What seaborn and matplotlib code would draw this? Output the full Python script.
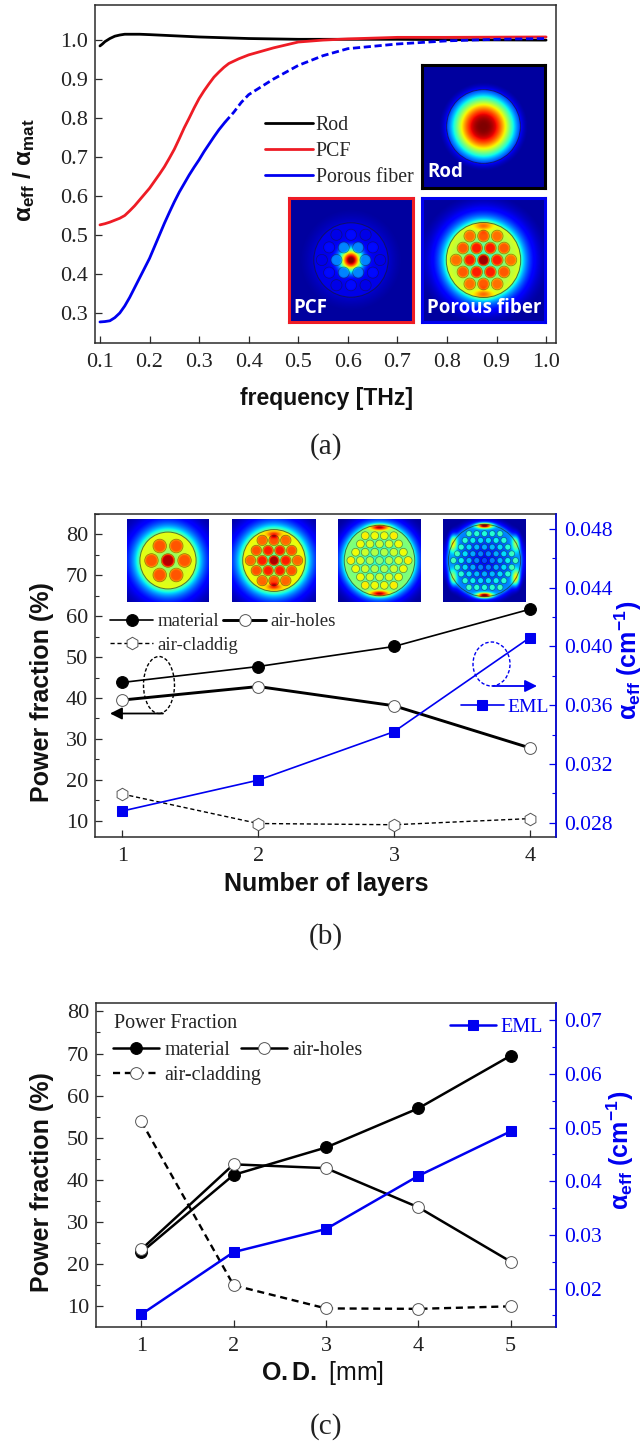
import numpy as np
import matplotlib.pyplot as plt
from matplotlib.patches import Circle, Ellipse, FancyArrowPatch
from matplotlib.ticker import MultipleLocator
import seaborn as sns

W, H = 644, 1444

# panel a
rod_x = [0.1, 0.105, 0.11, 0.12, 0.13, 0.14, 0.15, 0.16, 0.18, 0.2, 0.3, 0.4, 0.5, 0.6, 0.7, 0.8, 1.0]
rod_y = [0.985, 0.99, 0.996, 1.004, 1.01, 1.013, 1.015, 1.015, 1.015, 1.014, 1.008, 1.004, 1.002, 1.002, 1.002, 1.001, 1.0]
pcf_x = [0.1, 0.11, 0.12, 0.13, 0.14, 0.15, 0.16, 0.17, 0.18, 0.19, 0.2, 0.21, 0.22, 0.23, 0.24, 0.25, 0.26, 0.27,
         0.28, 0.29, 0.3, 0.31, 0.32, 0.33, 0.34, 0.35, 0.36, 0.38, 0.4, 0.45, 0.5, 0.55, 0.6, 0.7, 0.8, 1.0]
pcf_y = [0.526, 0.529, 0.533, 0.538, 0.543, 0.55, 0.562, 0.575, 0.59, 0.605, 0.62, 0.638, 0.656, 0.675, 0.697, 0.72,
         0.747, 0.775, 0.80, 0.826, 0.85, 0.87, 0.888, 0.905, 0.918, 0.93, 0.94, 0.952, 0.962, 0.98, 0.995, 1.0,
         1.003, 1.007, 1.007, 1.008]
porous_x = [0.1, 0.11, 0.12, 0.13, 0.14, 0.15, 0.16, 0.17, 0.18, 0.19, 0.2, 0.21, 0.22, 0.23, 0.24, 0.25, 0.26, 0.27,
            0.28, 0.29, 0.3, 0.31, 0.32, 0.33, 0.34, 0.352]
porous_y = [0.277, 0.278, 0.28, 0.288, 0.30, 0.318, 0.34, 0.365, 0.39, 0.415, 0.44, 0.47, 0.50, 0.53, 0.558, 0.585,
            0.61, 0.632, 0.654, 0.674, 0.693, 0.714, 0.733, 0.752, 0.77, 0.789]
porous_dash_x = [0.352, 0.37, 0.385, 0.4, 0.425, 0.45, 0.5, 0.55, 0.6, 0.7, 0.8, 0.9, 1.0]
porous_dash_y = [0.789, 0.815, 0.84, 0.86, 0.88, 0.90, 0.935, 0.96, 0.978, 0.99, 0.998, 1.002, 1.004]

# panel b
layers = [1, 2, 3, 4]
b_material = [43.8, 47.7, 52.6, 61.7]
b_holes = [39.5, 42.8, 38.1, 27.8]
b_cladding = [16.5, 9.3, 9.0, 10.5]
b_eml = [0.0288, 0.0309, 0.0342, 0.0406]

# panel c
od = [1, 2, 3, 4, 5]
c_material = [22.8, 41.2, 47.7, 57.0, 69.5]
c_holes = [23.5, 43.7, 42.8, 33.5, 20.6]
c_cladding = [53.9, 15.0, 9.5, 9.4, 10.0]
c_eml = [0.0152, 0.0268, 0.0311, 0.0410, 0.0493]

sns.set_theme(style="ticks")
plt.rcParams["font.family"] = ["Liberation Serif", "DejaVu Serif"]
plt.rcParams["mathtext.fontset"] = "custom"
plt.rcParams["mathtext.rm"] = "Liberation Sans:bold"
plt.rcParams["mathtext.bf"] = "Liberation Sans:bold"
plt.rcParams["mathtext.it"] = "Liberation Sans:bold"

DARK = "#2b2b2b"
BLUE = "#0000f0"
SANS = "Liberation Sans"

fig = plt.figure(figsize=(W / 100, H / 100), dpi=100)


def px_axes(left, top, right, bottom):
    return fig.add_axes([left / W, 1 - bottom / H, (right - left) / W, (bottom - top) / H])


def fx(x):
    return x / W


def fy(y):
    return 1 - y / H


def style_main(ax, size=16):
    for s in ax.spines.values():
        s.set_color(DARK)
        s.set_linewidth(1.1)
    ax.tick_params(axis="both", which="major", direction="in", length=5, width=0.9,
                   color=DARK, labelcolor="#222222", labelsize=size)
    ax.tick_params(axis="x", pad=7)
    ax.tick_params(axis="y", pad=5)
    ax.tick_params(axis="y", which="minor", direction="in", length=3, width=0.8, color=DARK)


def style_twin(ax):
    ax.spines["right"].set_color(BLUE)
    ax.spines["right"].set_linewidth(1.1)
    for n in ["left", "top", "bottom"]:
        ax.spines[n].set_visible(False)
    ax.tick_params(axis="y", which="major", direction="in", length=5, width=0.9,
                   color=BLUE, labelcolor=BLUE, labelsize=15.5, pad=6)
    ax.tick_params(axis="y", which="minor", direction="in", length=3, width=0.8, color=BLUE)


def labels(ax, xtext, xpos, ytext, ypos, xsize=18, ysize=18):
    ax.set_xlabel(xtext, family=SANS, weight="bold", fontsize=xsize, color="#111111", va="center")
    ax.xaxis.set_label_coords(fx(xpos[0]), fy(xpos[1]), transform=fig.transFigure)
    ax.set_ylabel(ytext, family=SANS, weight="bold", fontsize=ysize, color="#111111", va="center")
    ax.yaxis.set_label_coords(fx(ypos[0]), fy(ypos[1]), transform=fig.transFigure)


def split_legend(ax, first, second, x1, x2, top, size, spacing):
    # the second column sits over the long label of the first, so two legends
    handles = dict(zip(*reversed(ax.get_legend_handles_labels())))
    opts = dict(frameon=False, fontsize=size, handlelength=2.3, handletextpad=0.25,
                labelspacing=spacing, borderpad=0, borderaxespad=0, loc="upper left",
                bbox_transform=fig.transFigure)
    leg = ax.legend([handles[k] for k in first], first, bbox_to_anchor=(fx(x1), fy(top)), **opts)
    ax.add_artist(leg)
    ax.legend([handles[k] for k in second], second, bbox_to_anchor=(fx(x2), fy(top)), **opts)


def hex_centres(rings, pitch):
    out = []
    for j in range(-rings, rings + 1):
        for i in range(-rings, rings + 1):
            if abs(i + j) <= rings:
                out.append((pitch * (i + j / 2), pitch * j * np.sqrt(3) / 2))
    return out


def fibre_inset(box, rings, pitch, hole_r, fibre_r, web, core, core_w, edge, fall,
                hole_in, hole_out, lobes=(), skip_core=False, border=None, name=None, name_xy=None,
                core_pow=2):
    ax = px_axes(*box)
    g = np.linspace(-1, 1, 240)
    X, Y = np.meshgrid(g, g)
    R = np.hypot(X, Y)
    f = np.where(R < fibre_r, web + core * np.exp(-(R / core_w) ** core_pow),
                 edge * np.exp(-np.clip(R - fibre_r, 0, None) / fall))
    centres = hex_centres(rings, pitch) if rings else []
    if skip_core:
        centres = [c for c in centres if np.hypot(*c) > 1e-6]
    rmax = max([np.hypot(*c) for c in centres] + [1e-6])
    for cx, cy in centres:
        m = np.exp(-(np.hypot(X - cx, Y - cy) / hole_r) ** 10)
        val = hole_in + (hole_out - hole_in) * np.hypot(cx, cy) / rmax
        f = f * (1 - m) + val * m
    for lx, ly, sx, sy, amp in lobes:
        f = f + amp * np.exp(-((X - lx) / sx) ** 2 - ((Y - ly) / sy) ** 2)
    ax.imshow(np.clip(f, 0.03, 1), cmap="jet", vmin=0, vmax=1, extent=[-1, 1, -1, 1],
              origin="lower", interpolation="bilinear", aspect="auto")
    ax.add_patch(Circle((0, 0), fibre_r, fill=False, ec="#1a1a1a", lw=0.7, alpha=0.6))
    for cx, cy in centres:
        ax.add_patch(Circle((cx, cy), hole_r, fill=False, ec="#1a1a1a", lw=0.5, alpha=0.5))
    ax.set_xlim(-1, 1)
    ax.set_ylim(-1, 1)
    ax.set_xticks([])
    ax.set_yticks([])
    for s in ax.spines.values():
        if border:
            s.set_color(border)
            s.set_linewidth(2.2)
        else:
            s.set_visible(False)
    if name:
        fig.text(fx(name_xy[0]), fy(name_xy[1]), name, color="white", family="Open Sans",
                 weight="bold", fontsize=13.5, va="center", ha="left")


# ---- panel a
ax_a = px_axes(95, 5, 556, 343)
sns.lineplot(x=rod_x, y=rod_y, ax=ax_a, color="black", lw=2.0, label="Rod", errorbar=None)
sns.lineplot(x=pcf_x, y=pcf_y, ax=ax_a, color="#ee1c25", lw=2.0, label="PCF", errorbar=None)
sns.lineplot(x=porous_x, y=porous_y, ax=ax_a, color=BLUE, lw=2.0, label="Porous fiber", errorbar=None)
sns.lineplot(x=porous_dash_x, y=porous_dash_y, ax=ax_a, color=BLUE, lw=2.0, errorbar=None,
             linestyle=(0, (2.6, 1.3)))
ax_a.set_xlim(0.09, 1.02)
ax_a.set_ylim(0.223, 1.09)
ax_a.set_xticks(np.arange(1, 11) / 10)
ax_a.set_yticks(np.arange(3, 11) / 10)
ax_a.set_xticklabels([f"{v / 10:.1f}" for v in range(1, 11)])
ax_a.set_yticklabels([f"{v / 10:.1f}" for v in range(3, 11)])
style_main(ax_a)
labels(ax_a, "frequency [THz]", (326, 398), r"$\mathbf{\alpha_{eff}}$ / $\mathbf{\alpha_{mat}}$", (24, 170), 16.5, 17.5)
ax_a.legend(loc="upper left", bbox_to_anchor=(fx(265), fy(116)), bbox_transform=fig.transFigure,
            frameon=False, fontsize=14.3, handlelength=2.4, handletextpad=0.15, labelspacing=0.36,
            borderpad=0, borderaxespad=0)

fibre_inset((422, 65, 545, 188), 0, 0.2, 0.1, 0.6, 0.0, 1.0, 0.49, 0.13, 0.08, 0, 0, core_pow=2.6,
            border="black", name="Rod", name_xy=(427, 172))
fibre_inset((289, 198, 413, 322), 2, 0.235, 0.09, 0.6, 0.09, 0.95, 0.17, 0.07, 0.25, 0.42, 0.09,
            skip_core=True, border="#ee1c25", name="PCF", name_xy=(293, 308))
fibre_inset((422, 198, 545, 322), 2, 0.223, 0.095, 0.605, 0.68, -0.28, 0.5, 0.45, 0.17, 0.97, 0.79,
            lobes=[(0, 0.55, 0.14, 0.07, 0.2), (0, -0.55, 0.14, 0.07, 0.2)],
            border=BLUE, name="Porous fiber", name_xy=(427, 308))

# ---- panel b
ax_b = px_axes(95, 514, 556, 837)
sns.lineplot(x=layers, y=b_material, ax=ax_b, color="black", lw=1.2, marker="o", ms=8.5,
             mfc="black", mec="black", label="material", errorbar=None)
sns.lineplot(x=layers, y=b_cladding, ax=ax_b, color="black", lw=1.0, marker="h", ms=9,
             mfc="white", mec="#555555", mew=0.7, linestyle=(0, (3, 2)), label="air-claddig", errorbar=None)
sns.lineplot(x=layers, y=b_holes, ax=ax_b, color="black", lw=2.1, marker="o", ms=8.5,
             mfc="white", mec="#555555", mew=0.7, label="air-holes", errorbar=None)
ax_b.set_xlim(0.798, 4.193)
ax_b.set_ylim(6.0, 85.0)
ax_b.set_xticks(layers)
ax_b.yaxis.set_major_locator(MultipleLocator(10))
ax_b.yaxis.set_minor_locator(MultipleLocator(5))
style_main(ax_b)
labels(ax_b, "Number of layers", (326, 884), "Power fraction (%)", (42, 692))
split_legend(ax_b, ["material", "air-claddig"], ["air-holes"], 110, 223, 613, 13.5, 0.35)

tw_b = ax_b.twinx()
sns.lineplot(x=layers, y=b_eml, ax=tw_b, color=BLUE, lw=1.2, marker="s", ms=7.5,
             mfc=BLUE, mec=BLUE, label="EML", errorbar=None)
tw_b.set_ylim(0.02703, 0.04902)
tw_b.set_yticks([0.028, 0.032, 0.036, 0.040, 0.044, 0.048])
tw_b.set_yticklabels(["0.028", "0.032", "0.036", "0.040", "0.044", "0.048"])
tw_b.yaxis.set_minor_locator(MultipleLocator(0.002))
style_twin(tw_b)
tw_b.set_ylabel(r"$\mathbf{\alpha_{eff}}$ (cm$^{\mathbf{-1}}$)", family=SANS, weight="bold",
                fontsize=18, color=BLUE, va="center")
tw_b.yaxis.set_label_coords(fx(628), fy(660), transform=fig.transFigure)
tw_b.legend(loc="upper left", bbox_to_anchor=(fx(461), fy(698)), bbox_transform=fig.transFigure,
            frameon=False, fontsize=14, labelcolor=BLUE, handlelength=2.2, handletextpad=0.2,
            borderpad=0, borderaxespad=0)

inset_top, inset_bottom = 519, 602
fibre_inset((127, inset_top, 209, inset_bottom), 1, 0.403, 0.165, 0.685, 0.63, -0.15, 0.35, 0.5, 0.27, 0.95, 0.82)
fibre_inset((232, inset_top, 316, inset_bottom), 2, 0.28, 0.125, 0.745, 0.68, -0.25, 0.5, 0.5, 0.25, 0.96, 0.8,
            lobes=[(0, 0.63, 0.16, 0.07, 0.25), (0, -0.63, 0.16, 0.07, 0.25)])
fibre_inset((338, inset_top, 421, inset_bottom), 3, 0.23, 0.095, 0.85, 0.55, -0.15, 0.7, 0.42, 0.18, 0.52, 0.66,
            lobes=[(0, 0.8, 0.22, 0.07, 0.45), (0, -0.8, 0.22, 0.07, 0.45)])
fibre_inset((443, inset_top, 526, inset_bottom), 4, 0.187, 0.072, 0.87, 0.3, -0.17, 0.7, 0.3, 0.1, 0.2, 0.42,
            lobes=[(0, 0.84, 0.18, 0.06, 0.8), (0, -0.84, 0.18, 0.06, 0.8),
                   (-0.76, 0.42, 0.09, 0.2, 0.42), (0.76, 0.42, 0.09, 0.2, 0.3),
                   (-0.76, -0.42, 0.09, 0.2, 0.3), (0.76, -0.42, 0.09, 0.2, 0.42)])

# circled series and arrows
fig.add_artist(Ellipse((fx(159), fy(685)), 31 / W, 57 / H, fill=False, ec="black", lw=1.0,
                       ls=(0, (2.5, 1.5)), transform=fig.transFigure))
fig.add_artist(Ellipse((fx(491.5), fy(664)), 37 / W, 44 / H, fill=False, ec=BLUE, lw=1.0,
                       ls=(0, (2.5, 1.5)), transform=fig.transFigure))
fig.add_artist(FancyArrowPatch((fx(163), fy(713.5)), (fx(110), fy(713.5)), transform=fig.transFigure,
                               arrowstyle="-|>", mutation_scale=18, color="black", lw=1.3,
                               shrinkA=0, shrinkB=0))
fig.add_artist(FancyArrowPatch((fx(493), fy(686)), (fx(537), fy(686)), transform=fig.transFigure,
                               arrowstyle="-|>", mutation_scale=18, color=BLUE, lw=1.3,
                               shrinkA=0, shrinkB=0))

# ---- panel c
ax_c = px_axes(96, 1003, 556, 1327)
sns.lineplot(x=od, y=c_material, ax=ax_c, color="black", lw=1.8, marker="o", ms=8.5,
             mfc="black", mec="black", label="material", errorbar=None)
sns.lineplot(x=od, y=c_cladding, ax=ax_c, color="black", lw=1.7, marker="o", ms=8.5,
             mfc="white", mec="#555555", mew=0.7, linestyle=(0, (3, 2)), label="air-cladding", errorbar=None)
sns.lineplot(x=od, y=c_holes, ax=ax_c, color="black", lw=1.8, marker="o", ms=8.5,
             mfc="white", mec="#555555", mew=0.7, label="air-holes", errorbar=None)
ax_c.set_xlim(0.51, 5.49)
ax_c.set_ylim(5.09, 82.0)
ax_c.set_xticks(od)
ax_c.yaxis.set_major_locator(MultipleLocator(10))
ax_c.yaxis.set_minor_locator(MultipleLocator(5))
style_main(ax_c)
labels(ax_c, "", (326, 1373), "Power fraction (%)", (42, 1182))
ax_c.set_xlabel(r"$\mathbf{O{.}D{.}}$ [mm]", family=SANS, weight="normal", fontsize=18, color="#111111", va="center")
split_legend(ax_c, ["material", "air-cladding"], ["air-holes"], 113, 241, 1041, 14.5, 0.3)
fig.text(fx(114), fy(1023), "Power Fraction", fontsize=14.5, color="#222222", va="center")

tw_c = ax_c.twinx()
sns.lineplot(x=od, y=c_eml, ax=tw_c, color=BLUE, lw=1.8, marker="s", ms=7.5,
             mfc=BLUE, mec=BLUE, label="EML", errorbar=None)
tw_c.set_ylim(0.01285, 0.0732)
tw_c.set_yticks([0.02, 0.03, 0.04, 0.05, 0.06, 0.07])
tw_c.set_yticklabels(["0.02", "0.03", "0.04", "0.05", "0.06", "0.07"])
tw_c.yaxis.set_minor_locator(MultipleLocator(0.005))
style_twin(tw_c)
tw_c.set_ylabel(r"$\mathbf{\alpha_{eff}}$ (cm$^{\mathbf{-1}}$)", family=SANS, weight="bold",
                fontsize=18, color=BLUE, va="center")
tw_c.yaxis.set_label_coords(fx(620), fy(1150), transform=fig.transFigure)
tw_c.legend(loc="upper left", bbox_to_anchor=(fx(450), fy(1018)), bbox_transform=fig.transFigure,
            frameon=False, fontsize=14.5, labelcolor=BLUE, handlelength=2.3, handletextpad=0.2,
            borderpad=0, borderaxespad=0)

# panel letters
fig.text(fx(326), fy(447), "(a)", fontsize=21, ha="center", va="center", color="#222222")
fig.text(fx(326), fy(937), "(b)", fontsize=21, ha="center", va="center", color="#222222")
fig.text(fx(326), fy(1427), "(c)", fontsize=21, ha="center", va="center", color="#222222")

fig.savefig("out.png", dpi=100)
